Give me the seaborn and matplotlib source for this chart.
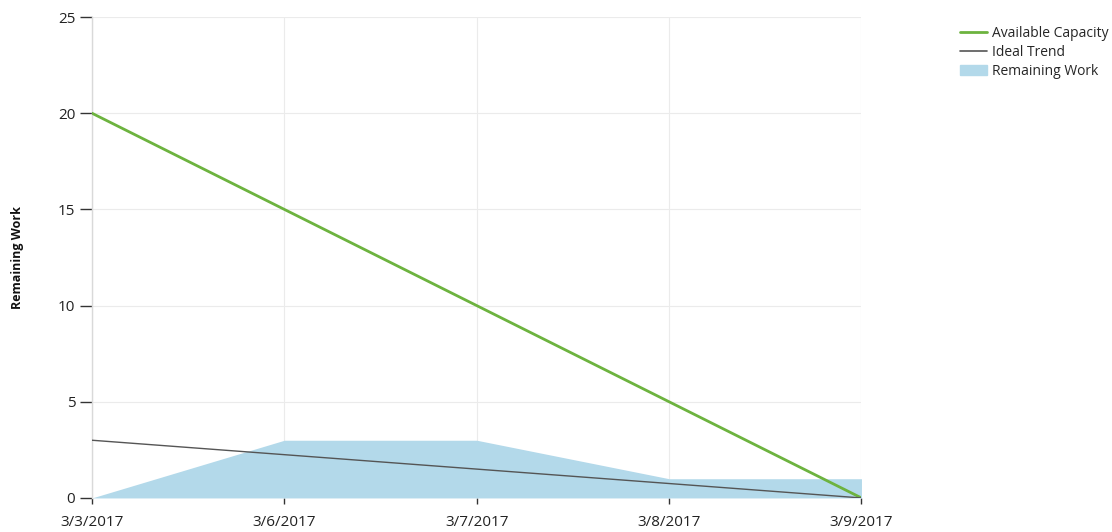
import matplotlib
matplotlib.use("Agg")
import matplotlib.pyplot as plt
import seaborn as sns
import pandas as pd

dates = ["3/3/2017", "3/6/2017", "3/7/2017", "3/8/2017", "3/9/2017"]
available_capacity = [20, 15, 10, 5, 0]
ideal_trend = [3, 2.25, 1.5, 0.75, 0]
remaining_work = [0, 3, 3, 1, 1]
y_ticks = [0, 5, 10, 15, 20, 25]

sns.set_theme(style="whitegrid")
plt.rcParams["font.family"] = ["Open Sans", "DejaVu Sans"]

pos = list(range(len(dates)))
df = pd.DataFrame({
    "pos": pos * 2,
    "value": available_capacity + ideal_trend,
    "series": ["Available Capacity"] * len(dates) + ["Ideal Trend"] * len(dates),
})

fig = plt.figure(figsize=(11.12, 5.32), dpi=100)
ax = fig.add_axes([0.0827, 0.064, 0.692, 0.904])

ax.fill_between(pos, remaining_work, 0, color="#b3d9ea", linewidth=0,
                label="Remaining Work", zorder=1)
sns.lineplot(data=df, x="pos", y="value", hue="series",
             palette={"Available Capacity": "#6db33f", "Ideal Trend": "#555555"},
             ax=ax, legend=False, zorder=3)
lines = ax.get_lines()
lines[0].set_linewidth(2.0)
lines[1].set_linewidth(1.0)

ax.set_xlim(0, len(dates) - 1)
ax.set_ylim(0, 25)
ax.set_xticks(pos)
ax.set_xticklabels(dates, fontsize=11, color="#222222")
ax.set_yticks(y_ticks)
ax.set_yticklabels([str(t) for t in y_ticks], fontsize=11, color="#222222")
ax.set_xlabel("")
ax.set_ylabel("Remaining Work", fontsize=9, fontweight="bold", color="#111111")
ax.yaxis.set_label_coords(-0.088, 0.5)

ax.grid(True, color="#ebebeb", linewidth=0.8)
ax.set_axisbelow(True)
for side in ["top", "right", "bottom"]:
    ax.spines[side].set_visible(False)
ax.spines["left"].set_color("#d9d9d9")
ax.spines["left"].set_linewidth(1.0)
ax.tick_params(axis="y", which="major", direction="out", length=9, width=1,
               color="#333333", pad=3, left=True)
ax.tick_params(axis="x", which="major", direction="out", length=4, width=1,
               color="#333333", pad=8, bottom=True)

handles = [
    plt.Line2D([], [], color="#6db33f", linewidth=2),
    plt.Line2D([], [], color="#555555", linewidth=1.2),
    plt.Rectangle((0, 0), 1, 1, color="#b3d9ea"),
]
labels = ["Available Capacity", "Ideal Trend", "Remaining Work"]
fig.legend(handles, labels, loc="upper left", bbox_to_anchor=(0.858, 0.962),
           frameon=False, fontsize=10, handlelength=2.0, handletextpad=0.3,
           labelspacing=0.3, borderaxespad=0)

fig.savefig("out.png", dpi=100, facecolor="white")
